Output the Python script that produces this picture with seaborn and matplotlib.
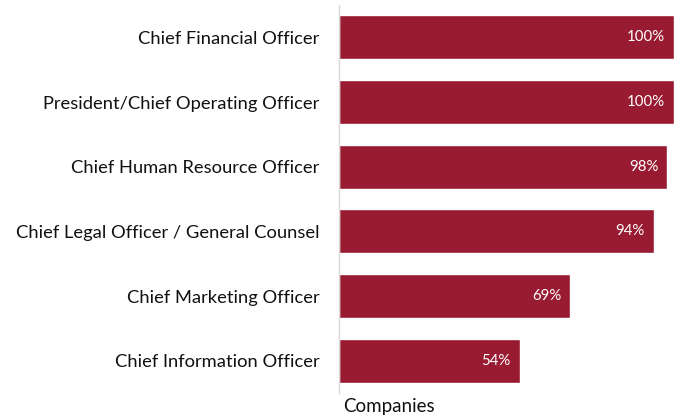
import pandas as pd
import matplotlib.pyplot as plt
import seaborn as sns

roles = ['Chief Financial Officer', 'President/Chief Operating Officer',
         'Chief Human Resource Officer', 'Chief Legal Officer / General Counsel',
         'Chief Marketing Officer', 'Chief Information Officer']
shares = [100, 100, 98, 94, 69, 54]

df = pd.DataFrame({'role': roles, 'share': shares})

sns.set_style('white')
plt.rcParams['font.family'] = ['Lato', 'DejaVu Sans']

fig = plt.figure(figsize=(6.78, 4.18), dpi=100)
ax = fig.add_axes([0.5, 0.0598, 0.4941, 0.9282])
sns.barplot(data=df, x='share', y='role', color='#981B31', width=0.68,
            saturation=1, ax=ax)
ax.set_xlim(0, 100)
ax.set_ylim(5.5, -0.5)
ax.set_xticks([])
ax.set_xlabel('')
ax.set_ylabel('')
ax.tick_params(axis='y', length=0, pad=14, labelsize=13.2, labelcolor='#111111')
for s in ['top', 'right', 'bottom']:
    ax.spines[s].set_visible(False)
ax.spines['left'].set_color('#D9D9D9')
ax.spines['left'].set_linewidth(1)

for i, v in enumerate(shares):
    ax.text(v - 2.7, i, f'{v}%', color='white', ha='right', va='center', fontsize=10.8)

ax.text(0.012, -0.035, 'Companies', transform=ax.transAxes, ha='left', va='center',
        fontsize=13.5, color='#111111')

fig.savefig('out.png', dpi=100)
